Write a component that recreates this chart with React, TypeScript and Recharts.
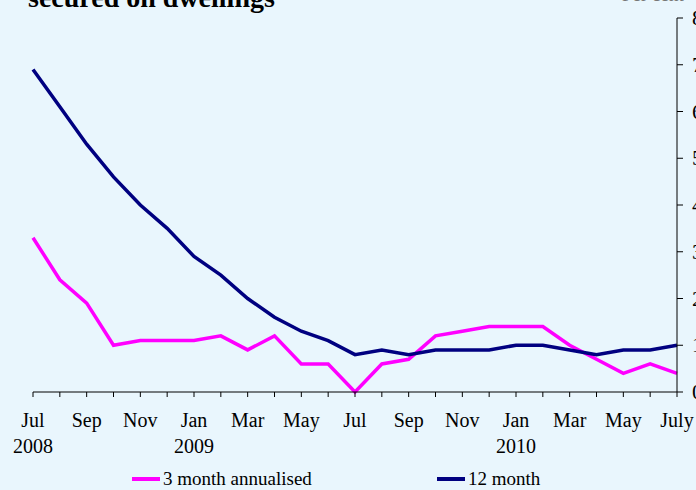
import React from "react"
import { LineChart, Line, XAxis, YAxis, Legend } from "recharts"

const months = [
  "Jul 2008", "Aug 2008", "Sep 2008", "Oct 2008", "Nov 2008", "Dec 2008",
  "Jan 2009", "Feb 2009", "Mar 2009", "Apr 2009", "May 2009", "Jun 2009",
  "Jul 2009", "Aug 2009", "Sep 2009", "Oct 2009", "Nov 2009", "Dec 2009",
  "Jan 2010", "Feb 2010", "Mar 2010", "Apr 2010", "May 2010", "Jun 2010",
  "Jul 2010",
]

const monthLabels = [
  "Jul", "", "Sep", "", "Nov", "", "Jan", "", "Mar", "", "May", "",
  "Jul", "", "Sep", "", "Nov", "", "Jan", "", "Mar", "", "May", "", "July",
]

const yearLabels = [
  "2008", "", "", "", "", "", "2009", "", "", "", "", "",
  "", "", "", "", "", "", "2010", "", "", "", "", "", "",
]

const threeMonth = [
  3.3, 2.4, 1.9, 1.0, 1.1, 1.1, 1.1, 1.2, 0.9, 1.2, 0.6, 0.6,
  0.0, 0.6, 0.7, 1.2, 1.3, 1.4, 1.4, 1.4, 1.0, 0.7, 0.4, 0.6, 0.4,
]

const twelveMonth = [
  6.9, 6.1, 5.3, 4.6, 4.0, 3.5, 2.9, 2.5, 2.0, 1.6, 1.3, 1.1,
  0.8, 0.9, 0.8, 0.9, 0.9, 0.9, 1.0, 1.0, 0.9, 0.8, 0.9, 0.9, 1.0,
]

const seriesNames = ["3 month annualised", "12 month"]

const yTicks = [0, 1, 2, 3, 4, 5, 6, 7, 8]

const data = months.map((m, i) => ({
  month: m,
  threeMonth: threeMonth[i],
  twelveMonth: twelveMonth[i],
}))

const font = "'Liberation Serif', 'Times New Roman', serif"

function MonthTick(props: any) {
  const { x, y, index } = props
  return (
    <g>
      <line x1={x} y1={y} x2={x} y2={y + 5} stroke="#000" />
      <text x={x} y={y + 35} textAnchor="middle" fontSize={20} fontFamily={font} fill="#000">
        {monthLabels[index]}
      </text>
      <text x={x} y={y + 61} textAnchor="middle" fontSize={20} fontFamily={font} fill="#000">
        {yearLabels[index]}
      </text>
    </g>
  )
}

// right axis: ticks stick out to the right, labels mostly run off the page
function ValueTick(props: any) {
  const { x, y, payload } = props
  return (
    <g>
      <line x1={x} y1={y} x2={x + 6} y2={y} stroke="#000" />
      <text x={x + 15} y={y + 7} fontSize={22} fontFamily={font} fill="#000">
        {payload.value}
      </text>
    </g>
  )
}

function LegendBox(props: any) {
  const items = props.payload || []
  const spots = [132, 437]
  return (
    <div style={{ position: "relative", width: 696, height: 20 }}>
      {seriesNames.map((name, i) => {
        const it = items.find((p: any) => p.value === name)
        return (
          <div
            key={name}
            style={{
              position: "absolute",
              left: spots[i],
              top: 0,
              height: 20,
              lineHeight: "20px",
              display: "flex",
              alignItems: "center",
              fontFamily: font,
              fontSize: 19,
              color: "#000",
              whiteSpace: "nowrap",
            }}
          >
            <span style={{ display: "inline-block", width: 28, height: 4, background: it ? it.color : "#000", marginRight: 3 }} />
            {name}
          </div>
        )
      })}
    </div>
  )
}

export default function App() {
  return (
    <div style={{ position: "absolute", left: 0, top: 0, width: 696, height: 490, background: "#E9F6FD", overflow: "hidden" }}>
      <LineChart width={696} height={490} data={data} margin={{ top: 18, right: 0, bottom: 0, left: 33 }}>
        <XAxis
          dataKey="month"
          interval={0}
          height={98}
          tickSize={0}
          tickMargin={0}
          tick={<MonthTick />}
          axisLine={{ stroke: "#000" }}
        />
        <YAxis
          orientation="right"
          width={19}
          domain={[0, 8]}
          ticks={yTicks}
          tickSize={0}
          tickMargin={0}
          tick={<ValueTick />}
          axisLine={{ stroke: "#000" }}
        />
        <Legend
          verticalAlign="middle"
          align="center"
          layout="horizontal"
          wrapperStyle={{ top: 469, left: 0, width: 696 }}
          content={<LegendBox />}
        />
        <Line
          type="linear"
          dataKey="threeMonth"
          name="3 month annualised"
          stroke="#FF00FF"
          strokeWidth={3.5}
          dot={false}
          isAnimationActive={false}
        />
        <Line
          type="linear"
          dataKey="twelveMonth"
          name="12 month"
          stroke="#000080"
          strokeWidth={3.5}
          dot={false}
          isAnimationActive={false}
        />
      </LineChart>
      <svg width={696} height={490} style={{ position: "absolute", left: 0, top: 0, pointerEvents: "none" }}>
        <text x={28} y={7} fontSize={28} fontWeight="bold" fontFamily={font} fill="#000">
          secured on dwellings
        </text>
        <text x={622} y={0.5} fontSize={19} fontFamily={font} fill="#777">
          Per cent
        </text>
      </svg>
    </div>
  )
}
